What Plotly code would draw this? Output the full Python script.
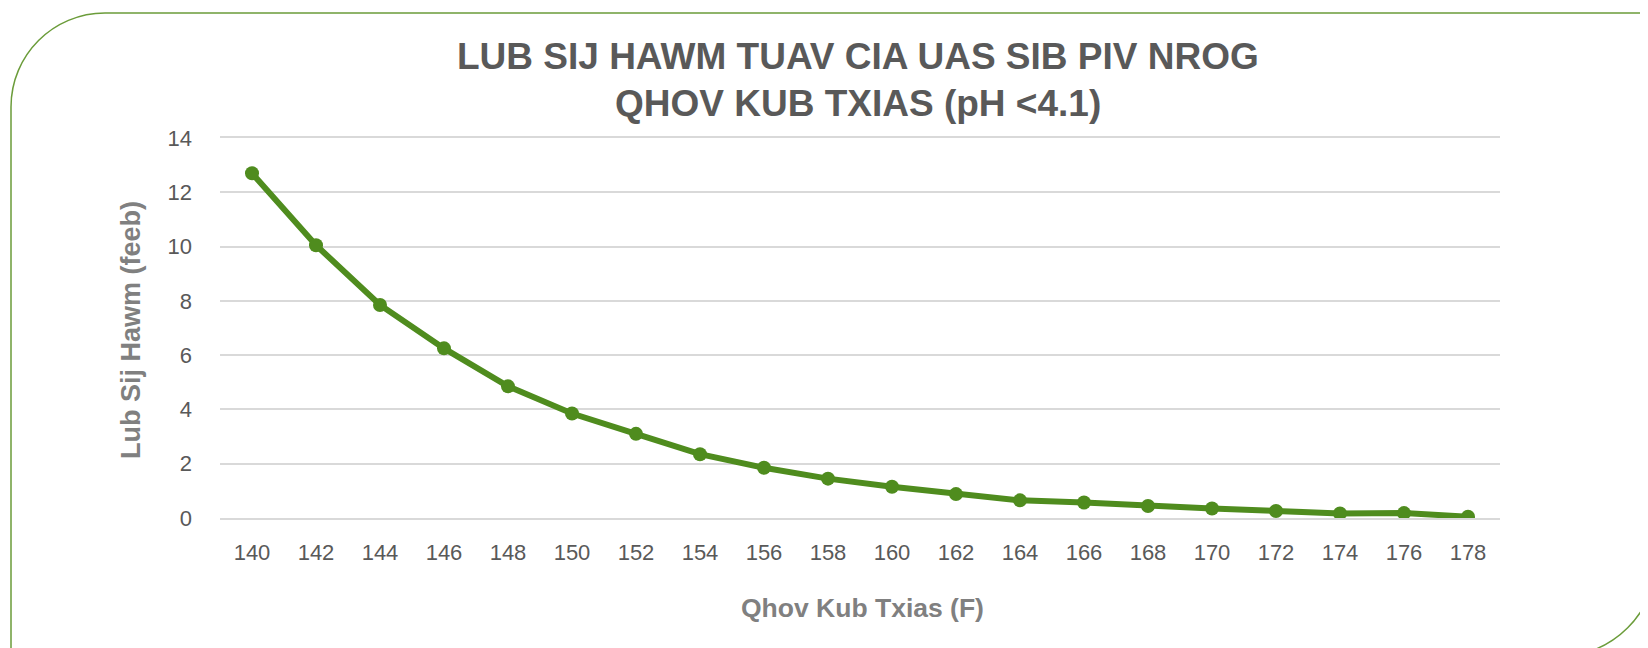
import plotly.graph_objects as go

# ---- data ----
temps_f = [140, 142, 144, 146, 148, 150, 152, 154, 156, 158,
           160, 162, 164, 166, 168, 170, 172, 174, 176, 178]
minutes = [12.7, 10.05, 7.85, 6.25, 4.85, 3.85, 3.1, 2.35, 1.85, 1.45,
           1.15, 0.88, 0.65, 0.57, 0.44, 0.35, 0.26, 0.17, 0.18, 0.05]
y_ticks = [0, 2, 4, 6, 8, 10, 12, 14]

title_line1 = "LUB SIJ HAWM TUAV CIA UAS SIB PIV NROG"
title_line2 = "QHOV KUB TXIAS (pH <4.1)"
x_title = "Qhov Kub Txias (F)"
y_title = "Lub Sij Hawm (feeb)"

# ---- layout geometry ----
# the page body has an 8px margin, so page pixel P is figure pixel P - 8
OFF = 8
W, H = 1648, 648
PLOT_L, PLOT_R, PLOT_T, PLOT_B = 220, 1500, 138, 518   # page pixels
ML, MR = PLOT_L - OFF, W - (PLOT_R - OFF)
MT, MB = PLOT_T - OFF, H - (PLOT_B - OFF)
PW, PH = PLOT_R - PLOT_L, PLOT_B - PLOT_T


def px(x):
    return (x - PLOT_L) / PW


def py(y):
    return (PLOT_B - y) / PH


GREEN = "#4f8c1e"
TITLE_GRAY = "#595959"
AXIS_GRAY = "#808080"
GRID = "#d9d9d9"
FONT = "Liberation Sans, Arial"

fig = go.Figure()
fig.add_trace(go.Scatter(
    x=[str(t) for t in temps_f],
    y=minutes,
    mode="lines+markers",
    line=dict(color=GREEN, width=6),
    marker=dict(color=GREEN, size=14),
    showlegend=False,
    hoverinfo="x+y",
))

# decorative frame (rounded top-left and bottom-right corners)
k = 0.5523
r1, cx1, cy1 = 94, 105, 107
r2, cx2, cy2 = 100, 1557, 557
left, top, right, bottom = cx1 - r1, cy1 - r1, cx2 + r2, cy2 + r2
pts = [
    ("M", [(left, bottom + 5)]),
    ("L", [(left, cy1)]),
    ("C", [(left, cy1 - k * r1), (cx1 - k * r1, top), (cx1, top)]),
    ("L", [(right, top)]),
    ("L", [(right, cy2)]),
    ("C", [(right, cy2 + k * r2), (cx2 + k * r2, bottom), (cx2, bottom)]),
    ("L", [(left, bottom)]),
]
path = " ".join(cmd + " " + " ".join(f"{px(x):.5f},{py(y):.5f}" for x, y in p)
                for cmd, p in pts)
fig.add_shape(type="path", xref="paper", yref="paper", path=path,
              line=dict(color="#6b9c3a", width=1.5), layer="above")

annotations = [
    dict(text=f"<b>{title_line1}</b>", x=px(858), y=py(57)),
    dict(text=f"<b>{title_line2}</b>", x=px(858), y=py(104)),
]
for a in annotations:
    a.update(xref="paper", yref="paper", xanchor="center", yanchor="middle",
             showarrow=False, font=dict(family=FONT, size=37, color=TITLE_GRAY))
annotations += [
    dict(text=f"<b>{x_title}</b>", x=px(862), y=py(608), xref="paper", yref="paper",
         xanchor="center", yanchor="middle", showarrow=False,
         font=dict(family=FONT, size=26.5, color=AXIS_GRAY)),
    dict(text=f"<b>{y_title}</b>", x=px(131), y=py(330), xref="paper", yref="paper",
         xanchor="center", yanchor="middle", showarrow=False, textangle=-90,
         font=dict(family=FONT, size=27, color=AXIS_GRAY)),
]

fig.update_layout(
    width=W, height=H,
    margin=dict(l=ML, r=MR, t=MT, b=MB, pad=0),
    paper_bgcolor="white", plot_bgcolor="white",
    annotations=annotations,
    xaxis=dict(
        type="category", range=[-0.5, len(temps_f) - 0.5],
        showgrid=False, zeroline=False,
        showline=True, mirror=True, linecolor=GRID, linewidth=1.5,
        ticks="", ticklabelstandoff=14,
        tickfont=dict(family=FONT, size=22, color=TITLE_GRAY),
    ),
    yaxis=dict(
        range=[0, 14], tickvals=y_ticks,
        showgrid=True, gridcolor=GRID, gridwidth=1.5,
        zeroline=False, showline=False,
        ticks="", ticklabelstandoff=27,
        tickfont=dict(family=FONT, size=22, color=TITLE_GRAY),
    ),
)

fig.write_html("out.html")
